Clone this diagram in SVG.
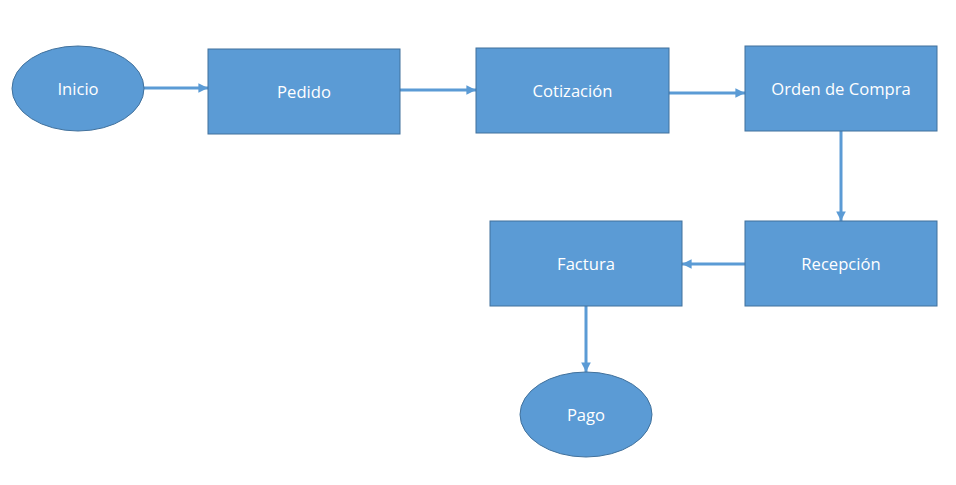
<svg xmlns="http://www.w3.org/2000/svg" width="956" height="485" viewBox="0 0 956 485">
<defs>
<style>
.n{fill:#5B9BD5;stroke:#41719C;stroke-width:1}
.t{fill:#FFFFFF;font-family:"Open Sans","Liberation Sans",sans-serif;font-size:16.6px;text-anchor:middle;dominant-baseline:central}
.c{fill:none;stroke:#5B9BD5;stroke-width:3;marker-end:url(#ah)}
</style>
<marker id="ah" viewBox="0 0 10 10" refX="10" refY="5" markerWidth="3.2" markerHeight="3.2" orient="auto" markerUnits="strokeWidth">
<path d="M0,0 L10,5 L0,10 Z" fill="#5B9BD5"/>
</marker>
</defs>
<rect width="956" height="485" fill="#FFFFFF"/>
<g id="connectors">
<line class="c" x1="144" y1="88" x2="208" y2="88"/>
<line class="c" x1="400" y1="90" x2="476" y2="90"/>
<line class="c" x1="669" y1="93" x2="745" y2="93"/>
<line class="c" x1="841" y1="131" x2="841" y2="221"/>
<line class="c" x1="745" y1="264" x2="682" y2="264"/>
<line class="c" x1="586" y1="306" x2="586" y2="372"/>
</g>
<g id="inicio"><ellipse class="n" cx="78" cy="88.5" rx="66" ry="42.5"/><text class="t" x="78" y="88.5">Inicio</text></g>
<g id="pedido"><rect class="n" x="208" y="49" width="192" height="85"/><text class="t" x="304" y="91.5">Pedido</text></g>
<g id="cotizacion"><rect class="n" x="476" y="48" width="193" height="85"/><text class="t" x="572.5" y="90">Cotización</text></g>
<g id="orden"><rect class="n" x="745" y="46" width="192" height="85"/><text class="t" x="841" y="88.5">Orden de Compra</text></g>
<g id="recepcion"><rect class="n" x="745" y="221" width="192" height="85"/><text class="t" x="841" y="263.5">Recepción</text></g>
<g id="factura"><rect class="n" x="490" y="221" width="192" height="85"/><text class="t" x="586" y="263.5">Factura</text></g>
<g id="pago"><ellipse class="n" cx="586" cy="414.5" rx="66" ry="42.5"/><text class="t" x="586" y="414.5">Pago</text></g>
</svg>
